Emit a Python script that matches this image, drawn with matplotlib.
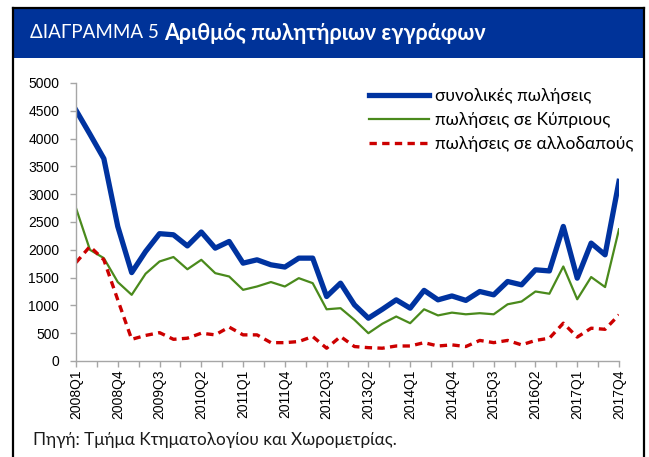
import matplotlib
matplotlib.use("Agg")
import matplotlib.pyplot as plt
from matplotlib.patches import Rectangle
from matplotlib.lines import Line2D

quarters = [f"{y}Q{q}" for y in range(2008, 2018) for q in range(1, 5)]
total = [4510, 4080, 3640, 2420, 1590, 1970, 2290, 2270, 2070, 2320, 2030, 2150,
         1760, 1820, 1730, 1690, 1850, 1850, 1160, 1400, 1010, 770, 930, 1100,
         950, 1270, 1100, 1170, 1090, 1250, 1190, 1430, 1370, 1640, 1620, 2420,
         1490, 2120, 1910, 3230]
cyprus = [2750, 2000, 1850, 1420, 1190, 1570, 1790, 1870, 1650, 1820, 1580, 1520,
          1280, 1340, 1420, 1340, 1490, 1400, 930, 950, 740, 500, 670, 800,
          680, 930, 820, 870, 840, 860, 840, 1020, 1070, 1250, 1210, 1700,
          1110, 1510, 1330, 2370]
foreign = [1770, 2060, 1820, 1100, 390, 460, 510, 390, 410, 500, 470, 610,
           470, 470, 330, 330, 350, 440, 230, 440, 260, 240, 230, 270,
           270, 330, 270, 290, 260, 370, 330, 370, 290, 370, 410, 680,
           430, 590, 570, 830]
series_labels = ["συνολικές πωλήσεις", "πωλήσεις σε Κύπριους", "πωλήσεις σε αλλοδαπούς"]
title_a = "ΔΙΑΓΡΑΜΜΑ 5 "
title_b = "Αριθμός πωλητήριων εγγράφων"
source = "Πηγή: Τμήμα Κτηματολογίου και Χωρομετρίας."

W, H = 649, 457
fig = plt.figure(figsize=(W / 100, H / 100), dpi=100)
fig.patch.set_facecolor("white")

def fx(px):
    return px / W

def fy(py):
    return 1 - py / H

ui_font = ["Lato", "Open Sans", "DejaVu Sans"]
num_font = ["Liberation Sans", "DejaVu Sans"]

# banner
fig.patches.append(Rectangle((fx(13), fy(58)), fx(644) - fx(13), fy(8) - fy(58),
                             transform=fig.transFigure, facecolor="#003399",
                             edgecolor="none", zorder=0))
# frame lines
for xs, ys in [([13, 13], [8, 457]), ([644, 644], [8, 457]), ([13, 644], [8, 8])]:
    fig.lines.append(Line2D([fx(v) for v in xs], [fy(v) for v in ys],
                            transform=fig.transFigure, color="black", lw=1.6))

t1 = fig.text(fx(30), fy(33), title_a, color="white", fontsize=13.5, family=ui_font,
              va="center", ha="left")
fig.canvas.draw()
bb = t1.get_window_extent(renderer=fig.canvas.get_renderer())
fig.text(bb.x1 / W, fy(33), title_b, color="white", fontsize=15.5, family=ui_font,
         fontweight="bold", va="center", ha="left")

ax = fig.add_axes([fx(76), fy(361), fx(619) - fx(76), fy(83) - fy(361)])
x = list(range(len(quarters)))
ax.plot(x, total, color="#0033A0", lw=3.8, label=series_labels[0], solid_joinstyle="round")
ax.plot(x, cyprus, color="#4A8A1C", lw=1.6, label=series_labels[1])
ax.plot(x, foreign, color="#CC0000", lw=2.4, ls=(0, (2.2, 1.6)), label=series_labels[2])

ax.set_xlim(0, len(quarters) - 1)
ax.set_ylim(0, 5000)
ax.set_yticks(range(0, 5001, 500))
ax.set_yticklabels([str(v) for v in range(0, 5001, 500)], family=num_font, fontsize=10)
ax.set_xticks(x[::3])
ax.set_xticklabels(quarters[::3], rotation=90, family=num_font, fontsize=10)
ax.set_xticks([v + 1.5 for v in x[::3][:-1]], minor=True)
for s in ["top", "right"]:
    ax.spines[s].set_visible(False)
for s in ["left", "bottom"]:
    ax.spines[s].set_color("#A6A6A6")
    ax.spines[s].set_linewidth(1)
ax.tick_params(axis="both", which="both", color="#A6A6A6", length=4, width=1)
ax.tick_params(axis="y", pad=8)
ax.tick_params(axis="x", pad=2)
ax.patch.set_alpha(0)

leg = ax.legend(loc="upper left", frameon=False, prop={"family": ui_font, "size": 12.5},
                handlelength=3.45, handletextpad=0.4, labelspacing=0.47)
leg.set_bbox_to_anchor((fx(353), fy(72)), transform=fig.transFigure)

fig.text(fx(33), fy(440), source, fontsize=12.3, family=ui_font, va="center", ha="left",
         color="#1a1a1a")

fig.savefig("out.png", dpi=100, facecolor="white")
